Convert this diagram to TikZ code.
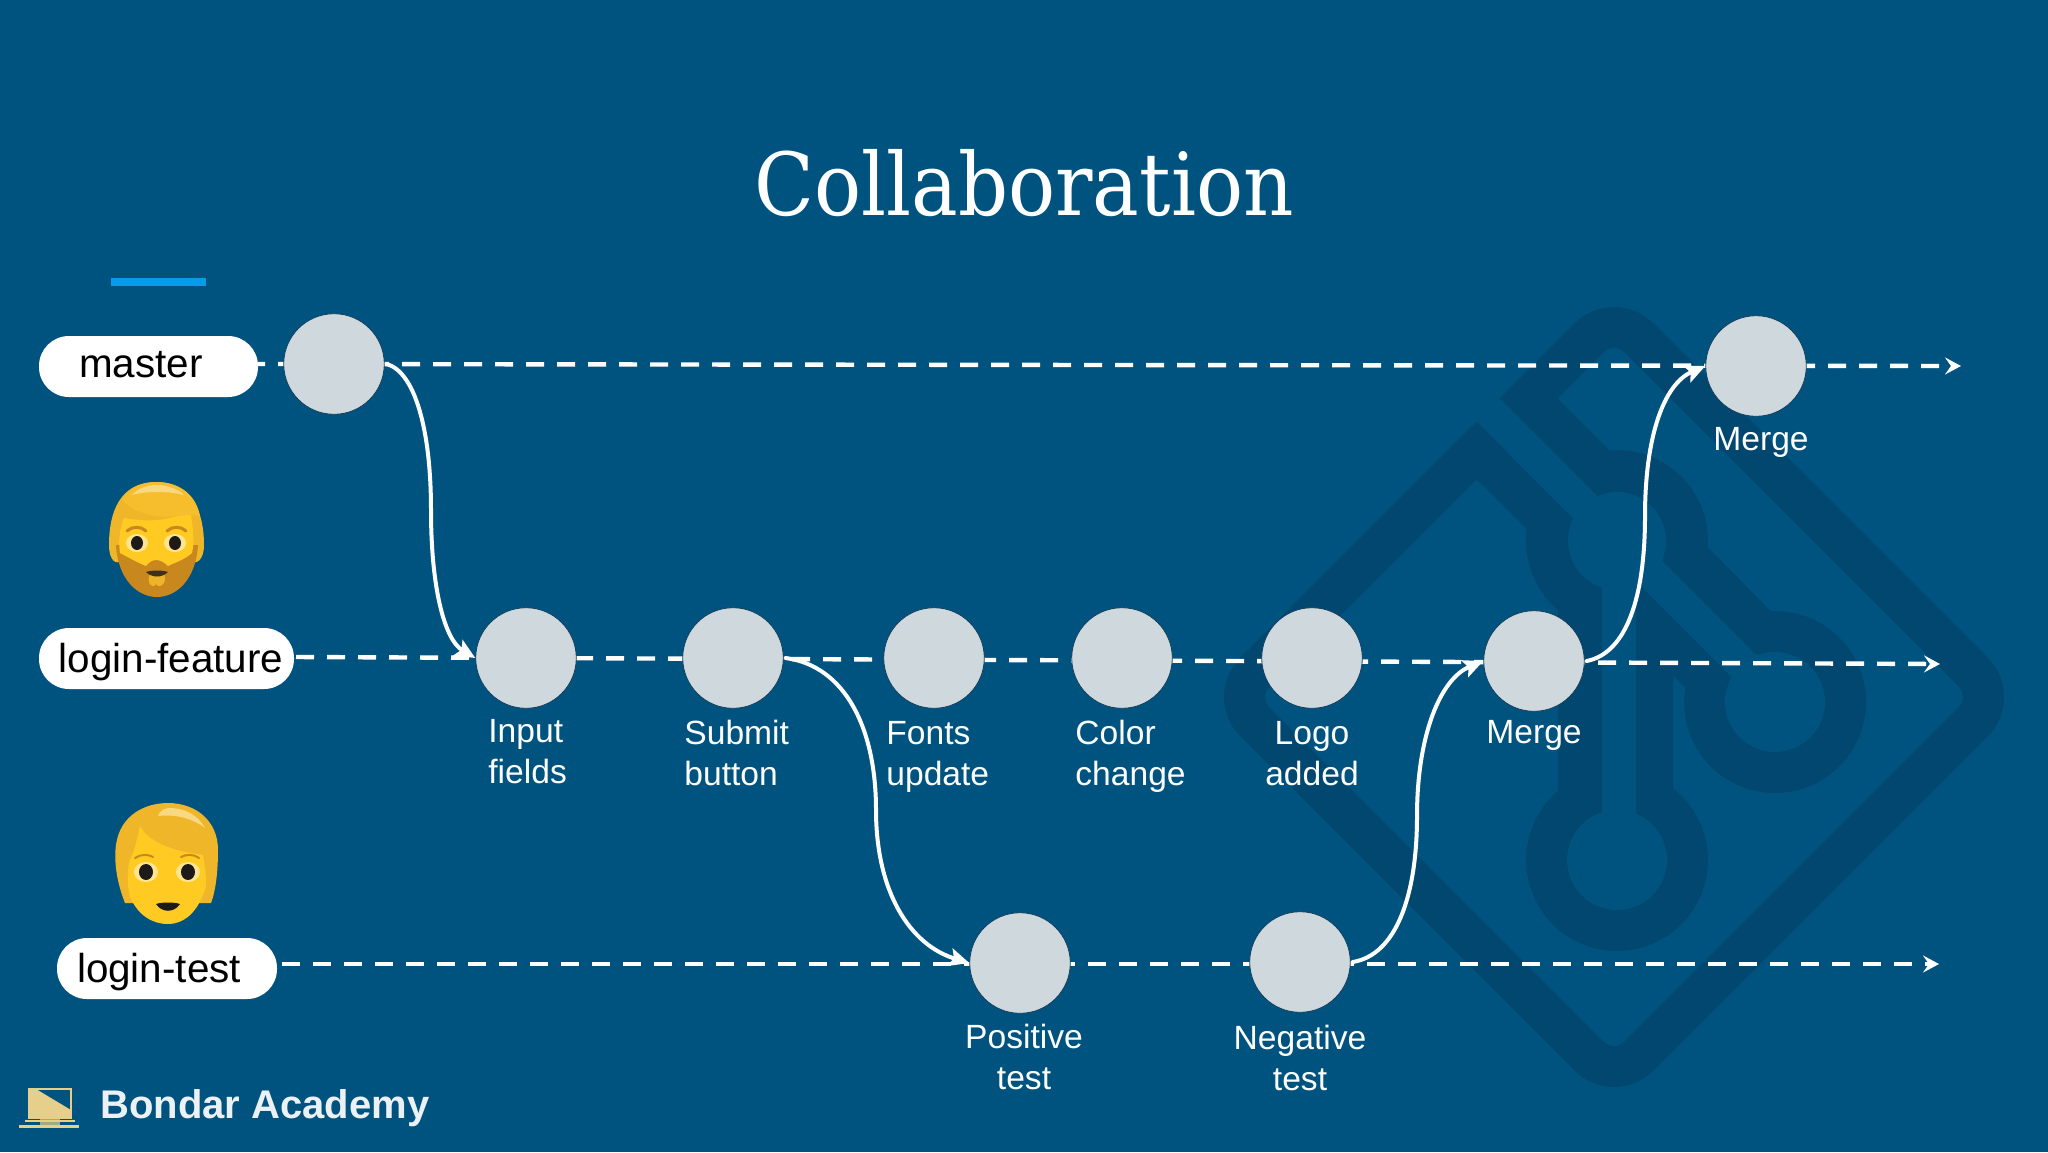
\documentclass[tikz,border=0pt]{standalone}
\usepackage{fontspec}
\setmainfont{Liberation Sans}
\newfontfamily\titlefont[FakeStretch=0.9]{DejaVu Serif}
\usetikzlibrary{arrows.meta}
\definecolor{bgblue}{HTML}{01537F}
\definecolor{wmark}{HTML}{01476F}
\definecolor{disc}{HTML}{CFD8DC}
\definecolor{discedge}{HTML}{123F5E}
\definecolor{barblue}{HTML}{0A9BE8}
\definecolor{tan}{HTML}{E6CF8B}
\definecolor{hairY}{HTML}{F6BE2C}
\definecolor{faceY}{HTML}{FFCB22}
\definecolor{beardY}{HTML}{C9881E}
\definecolor{eyeD}{HTML}{1E1A1A}
\tikzset{
  commit/.style={circle,fill=disc,draw=discedge,line width=0.4pt,minimum size=50.3pt,inner sep=0pt},
  pill/.style={fill=white,rounded corners=15pt,inner sep=0pt},
  pilltext/.style={font=\fontsize{20.2}{24}\selectfont,text=black,inner sep=0pt,anchor=base},
  lbl/.style={font=\fontsize{16.8}{20.3}\selectfont,text=white!94!disc,inner sep=0pt,anchor=base west,align=left},
  lblc/.style={font=\fontsize{16.8}{20.3}\selectfont,text=white!94!disc,inner sep=0pt,anchor=base,align=center},
  dashline/.style={white,line width=2.2pt,dash pattern=on 9pt off 6.5pt,-{Stealth[length=8pt,width=8.5pt,inset=3pt]}},
  branch/.style={white,line width=2pt,line cap=round,-{Stealth[length=10pt,width=9pt,inset=2pt]}},
  wm/.style={wmark,line join=miter}
}
\begin{document}
\begin{tikzpicture}[x=0.5pt,y=-0.5pt]
\fill[bgblue] (0,0) rectangle (2048,1152);
\useasboundingbox (0,0) rectangle (2048,1152);
% watermark
\draw[wm,line width=20.5pt] (1640,510) -- (1528.5,398.5) [rounded corners=17.5pt] -- (1614,313) -- (1998,697) -- (1614,1081) -- (1230,697) [sharp corners] -- (1476.5,450.5) -- (1570,544);
\draw[wm,line width=57.5pt] (1617,537) -- (1775,697);
\fill[wm] (1558,560) rectangle (1673,860);
\fill[wm] (1617,541) circle[radius=91];
\fill[wm] (1775,702) circle[radius=91];
\fill[wm] (1617,860) circle[radius=91];
\fill[bgblue] (1617,541) circle[radius=49];
\fill[bgblue] (1775,702) circle[radius=50];
\fill[bgblue] (1617,860) circle[radius=50];
\fill[bgblue] (1602,560) rectangle (1636,840);
\draw[bgblue,line width=16.5pt] (1520,442) -- (1770,692);
% accent bar
\fill[barblue] (111,278) rectangle (206,286);
% title
\node[font=\titlefont\fontsize{43.5}{50}\selectfont,text=white,inner sep=0pt,anchor=base] (title) at (1024,215) {Collaboration};
% pills
\node[pill,minimum width=109.5pt,minimum height=30.5pt] (master) at (148.5,366.5) {};
\node[pill,minimum width=127.5pt,minimum height=30.5pt] (feature) at (166.5,658.5) {};
\node[pill,minimum width=110pt,minimum height=30.5pt] (test) at (167,968.5) {};
\node[pilltext] (masterT) at (141,377) {master};
\node[pilltext] (featureT) at (171,672) {login-feature};
\node[pilltext] (testT) at (159,982) {login-test};
% commit positions
\coordinate (mA) at (258,364);
\coordinate (mZ) at (1961,366);
\coordinate (fA) at (296,657);
\coordinate (fZ) at (1940,664);
\coordinate (tA) at (282,964);
\coordinate (tZ) at (1939,964);
\draw[dashline,dash phase=5.5pt] (mA) -- (mZ);
\draw[dashline] (fA) -- (fZ);
\draw[dashline] (tA) -- (tZ);
\node[commit] (c0) at (334,364) {};
\node[commit] (input) at (526,658) {};
\node[commit] (submit) at (733,658) {};
\node[commit] (fonts) at (934,658) {};
\node[commit] (color) at (1122,658) {};
\node[commit] (logo) at (1312,658) {};
\node[commit] (merge) at (1534,661) {};
\node[commit] (top) at (1756,366) {};
\node[commit] (pos) at (1020,963) {};
\node[commit] (neg) at (1300,962) {};
% branches
\draw[branch] ([xshift=1pt]c0.east) .. controls (415,372) and (431,430) .. (431,510) .. controls (431,590) and (445,640) .. (input.west);
\draw[branch] ([xshift=1pt]submit.east) .. controls (845,666) and (876,728) .. (876,810) .. controls (876,892) and (910,945) .. (pos.west);
\draw[branch] ([xshift=1pt]neg.east) .. controls (1396,955) and (1417,896) .. (1417,816) .. controls (1417,736) and (1440,679) .. (merge.west);
\draw[branch] ([xshift=1pt]merge.east) .. controls (1627,653) and (1645,596) .. (1645,516) .. controls (1645,436) and (1664,384) .. (top.west);
% labels (base anchor of a two-line node is its last line)
\node[lbl] (lInput) at (488,783) {Input\\fields};
\node[lbl] (lSubmit) at (684,785) {Submit\\button};
\node[lbl] (lFonts) at (886,785) {Fonts\\update};
\node[lbl] (lColor) at (1075,785) {Color\\change};
\node[lblc] (lLogo) at (1312,785) {Logo\\added};
\node[lblc] (lMerge) at (1534,743) {Merge};
\node[lblc] (lTop) at (1761,450) {Merge};
\node[lblc] (lPos) at (1024,1089) {Positive\\test};
\node[lblc] (lNeg) at (1300,1090) {Negative\\test};
% bearded man emoji
\fill[hairY!85!beardY] (156,482) .. controls (192,482) and (204,512) .. (204,545) .. controls (204,560) and (196,566) .. (190,560) -- (122,560) .. controls (116,566) and (109,560) .. (109,545) .. controls (109,512) and (120,482) .. (156,482) -- cycle;
\fill[beardY] (116,545) .. controls (118,580) and (138,597) .. (157,597) .. controls (176,597) and (196,580) .. (198,545) -- cycle;
\fill[faceY] (124,518) .. controls (145,522) and (170,522) .. (190,510) .. controls (194,530) and (194,545) .. (192,553) .. controls (184,560) and (176,562) .. (168,566) .. controls (160,558) and (152,558) .. (146,566) .. controls (136,562) and (126,556) .. (120,553) .. controls (118,540) and (120,528) .. (124,518) -- cycle;
\fill[hairY] (156,482) .. controls (180,482) and (196,495) .. (200,516) .. controls (190,512) and (172,520) .. (150,515) .. controls (138,512) and (128,506) .. (122,500) .. controls (128,489) and (142,482) .. (156,482) -- cycle;
\fill[hairY!60!white] (156,485) .. controls (168,485) and (178,489) .. (184,495) .. controls (170,491) and (145,491) .. (132,495) .. controls (138,488) and (148,485) .. (156,485) -- cycle;
\draw[beardY,line width=1.5pt,line cap=round] (127,531) .. controls (132,526) and (141,526) .. (146,531);
\draw[beardY,line width=1.5pt,line cap=round] (167,531) .. controls (172,526) and (181,526) .. (186,531);
\fill[white!50!faceY] (137,543) ellipse[x radius=11,y radius=9];
\fill[white!50!faceY] (175,543) ellipse[x radius=11,y radius=9];
\fill[eyeD] (137,543) ellipse[x radius=6,y radius=7];
\fill[eyeD] (175,543) ellipse[x radius=6,y radius=7];
\fill[hairY!80!beardY] (150,574) .. controls (146,582) and (152,590) .. (156,584) .. controls (160,590) and (168,582) .. (164,574) -- cycle;
\fill[eyeD!80!beardY] (146,572) .. controls (152,570) and (162,570) .. (168,572) .. controls (162,578) and (152,578) .. (146,572) -- cycle;
% person emoji
\fill[hairY!85!beardY] (125,903) .. controls (116,880) and (114,860) .. (116,845) .. controls (120,815) and (145,803) .. (168,803) .. controls (195,803) and (218,820) .. (218,850) .. controls (218,870) and (216,890) .. (211,903) -- cycle;
\fill[faceY] (130,860) .. controls (135,850) and (138,835) .. (140,826) .. controls (150,845) and (180,852) .. (203,855) .. controls (206,875) and (208,885) .. (203,895) .. controls (195,915) and (182,924) .. (168,924) .. controls (152,924) and (138,915) .. (130,897) .. controls (127,885) and (127,870) .. (130,860) -- cycle;
\fill[hairY!60!white] (170,808) .. controls (185,808) and (198,815) .. (205,828) .. controls (192,818) and (175,814) .. (158,816) .. controls (160,810) and (165,808) .. (170,808) -- cycle;
\draw[beardY,line width=1pt,line cap=round] (135,858) .. controls (141,854) and (148,854) .. (153,857);
\draw[beardY,line width=1pt,line cap=round] (181,857) .. controls (186,854) and (194,854) .. (199,858);
\fill[white!50!faceY] (146,872) ellipse[x radius=12,y radius=10];
\fill[white!50!faceY] (188,872) ellipse[x radius=12,y radius=10];
\fill[eyeD] (146,872) ellipse[x radius=7,y radius=8];
\fill[eyeD] (188,872) ellipse[x radius=7,y radius=8];
\fill[eyeD] (156,904) .. controls (162,902) and (174,902) .. (180,904) .. controls (174,913) and (162,913) .. (156,904) -- cycle;
% laptop logo
\draw[tan,line width=0.7pt] (29,1089) rectangle (71,1118);
\fill[tan] (29,1089) -- (36,1089) -- (71,1110) -- (71,1118) -- (29,1118) -- cycle;
\fill[tan] (19,1125) -- (79,1125) -- (79,1128) -- (19,1128) -- cycle;
\fill[tan!70!bgblue] (40,1119) rectangle (60,1125);
\draw[tan,line width=0.7pt] (25,1121) -- (75,1121);
\node[font=\bfseries\fontsize{20}{24}\selectfont,text=white!92!bgblue,inner sep=0pt,anchor=base west] (brand) at (100,1118) {Bondar Academy};
\end{tikzpicture}
\end{document}
